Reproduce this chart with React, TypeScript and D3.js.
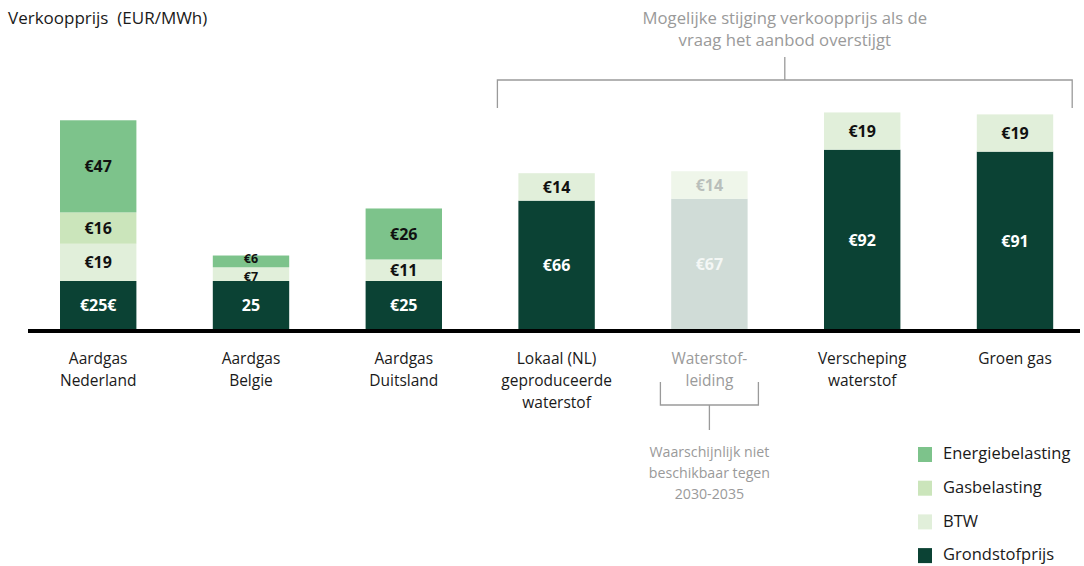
import React from "react";
import * as d3 from "d3";

const categories = [
  ["Aardgas", "Nederland"],
  ["Aardgas", "Belgie"],
  ["Aardgas", "Duitsland"],
  ["Lokaal (NL)", "geproduceerde", "waterstof"],
  ["Waterstof-", "leiding"],
  ["Verscheping", "waterstof"],
  ["Groen gas"],
];
const grondstof = [25, 25, 25, 66, 67, 92, 91];
const btw = [19, 7, 11, 14, 14, 19, 19];
const gasbelasting = [16, 0, 0, 0, 0, 0, 0];
const energiebelasting = [47, 6, 26, 0, 0, 0, 0];
const grondLabels = ["€25€", "25", "€25", "€66", "€67", "€92", "€91"];
const uncertain = [false, false, false, false, true, false, false];

const seriesNames = ["Grondstofprijs", "BTW", "Gasbelasting", "Energiebelasting"];
const colors = ["#0b4234", "#e1efda", "#cbe5bb", "#7dc38b"];
const greyColors = ["#d0dcd7", "#eff6ea", "#eef5e8", "#eef5e8"];

const W = 1084;
const H = 566;
const font = "'Open Sans', Roboto, sans-serif";

export default function App() {
  const x = d3
    .scaleBand<number>()
    .domain(d3.range(categories.length))
    .range([21.8, 1091.4])
    .paddingInner(0.5)
    .paddingOuter(0.25);
  const y = d3.scaleLinear().domain([0, 100]).range([330, 134]);

  const rows = categories.map((_, i) => ({
    i,
    s0: grondstof[i],
    s1: btw[i],
    s2: gasbelasting[i],
    s3: energiebelasting[i],
  }));
  const stack = d3.stack<any>().keys(["s0", "s1", "s2", "s3"]);
  const layers = stack(rows);

  const bw = x.bandwidth();
  const cx = (i: number) => (x(i) as number) + bw / 2;

  // top bracket spans the hydrogen / green gas options
  const bl = (x(3) as number) - 21;
  const br = (x(6) as number) + bw + 19;
  const bm = (bl + br) / 2;
  const grey = "#9a9a9a";

  const legendItems = [3, 2, 1, 0];

  return (
    <svg width={W} height={H} style={{ position: "absolute", left: 0, top: 0 }} fontFamily={font}>
      <rect width={W} height={H} fill="#fff" />
      <text x={8} y={24} fontSize={17} fill="#1a1a1a">
        Verkoopprijs{"\u00a0\u00a0"}(EUR/MWh)
      </text>

      {/* bracket top */}
      <text x={bm} y={24} fontSize={16.7} fill={grey} textAnchor="middle">
        Mogelijke stijging verkoopprijs als de
      </text>
      <text x={bm} y={46} fontSize={16.7} fill={grey} textAnchor="middle">
        vraag het aanbod overstijgt
      </text>
      <path
        d={`M${bl},108V80H${br}V108M${bm},80V57`}
        fill="none"
        stroke={grey}
        strokeWidth={1.3}
      />

      {layers.map((layer, k) =>
        layer.map((d, i) => {
          const h = y(d[0]) - y(d[1]);
          if (h <= 0) return null;
          const fill = uncertain[i] ? greyColors[k] : colors[k];
          const val = d[1] - d[0];
          const label = k === 0 ? grondLabels[i] : `€${val}`;
          let tc = k === 0 ? "#ffffff" : "#111111";
          if (uncertain[i]) tc = k === 0 ? "#f4f7f5" : "#b9bfbb";
          // thin Belgian segments: smaller labels pushed apart
          const thin = h < 18;
          const nudge = thin ? (k === 3 ? -2.5 : 2.5) : 0;
          return (
            <g key={`${k}-${i}`}>
              <rect x={x(i)} y={y(d[1])} width={bw} height={h} fill={fill} />
              <text
                x={cx(i)}
                y={(y(d[0]) + y(d[1])) / 2 + nudge}
                dy="0.36em"
                textAnchor="middle"
                fontSize={thin ? 12.5 : 16}
                fontWeight={700}
                fill={tc}
              >
                {label}
              </text>
            </g>
          );
        })
      )}

      <line x1={28} x2={1080} y1={331} y2={331} stroke="#000" strokeWidth={4} />

      {categories.map((lines, i) =>
        lines.map((t, j) => (
          <text
            key={`c${i}-${j}`}
            x={cx(i)}
            y={364 + j * 22}
            textAnchor="middle"
            fontSize={15.5}
            fill={uncertain[i] ? grey : "#1a1a1a"}
          >
            {t}
          </text>
        ))
      )}

      {/* bracket under hydrogen pipeline */}
      <path
        d={`M${cx(4) - 49},382V405H${cx(4) + 49}V382M${cx(4)},405V430`}
        fill="none"
        stroke={grey}
        strokeWidth={1.3}
      />
      {["Waarschijnlijk niet", "beschikbaar tegen", "2030-2035"].map((t, j) => (
        <text key={t} x={cx(4)} y={457 + j * 21} textAnchor="middle" fontSize={14.2} fill={grey}>
          {t}
        </text>
      ))}

      {legendItems.map((k, j) => (
        <g key={seriesNames[k]} transform={`translate(918,${447 + j * 33.7})`}>
          <rect width={14} height={15} fill={colors[k]} />
          <text x={25} y={6.5} dy="0.35em" fontSize={16.5} fill="#1a1a1a">
            {seriesNames[k]}
          </text>
        </g>
      ))}
    </svg>
  );
}
